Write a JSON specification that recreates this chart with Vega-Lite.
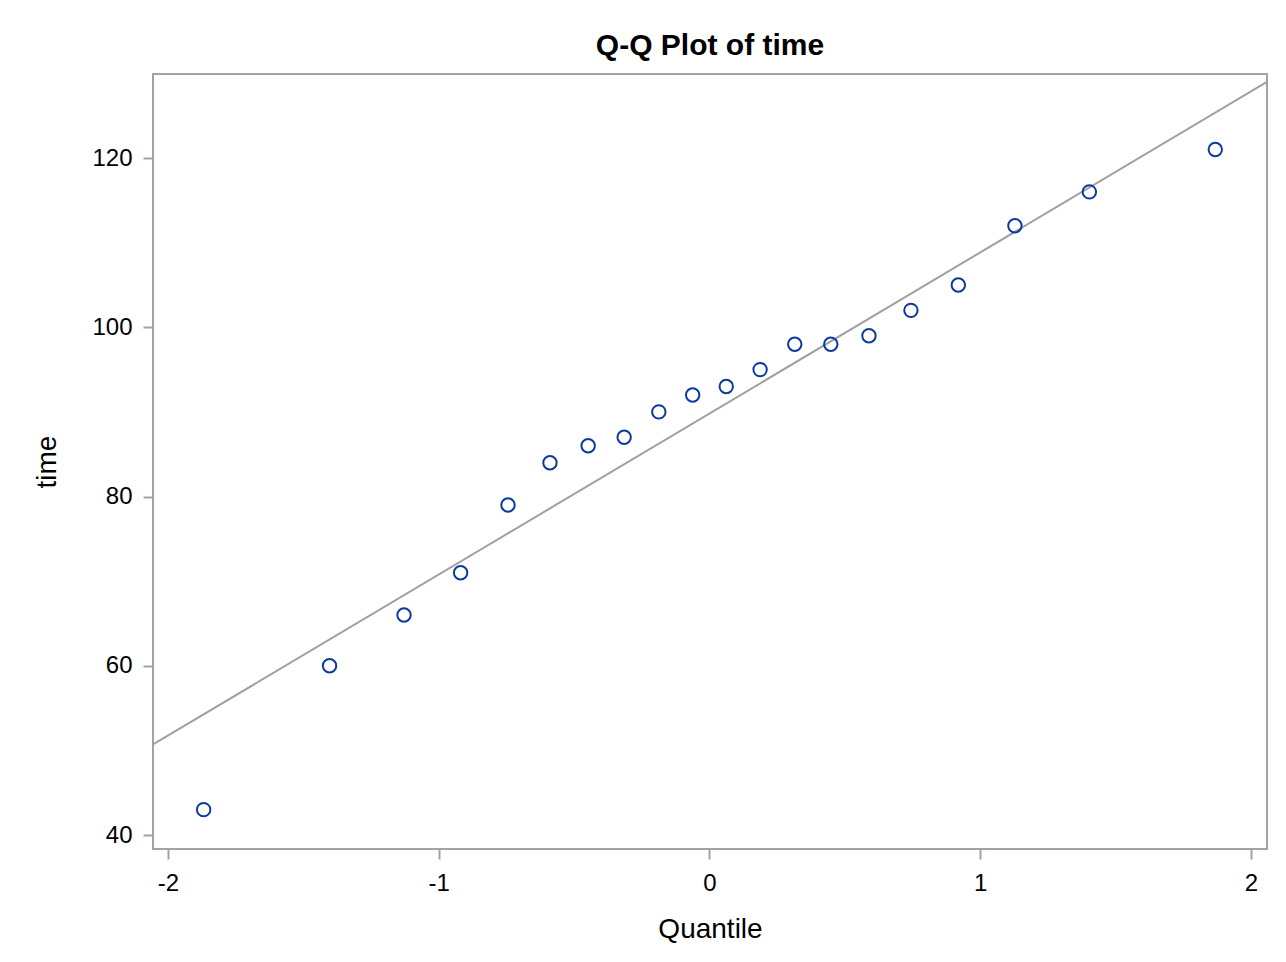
{
  "$schema": "https://vega.github.io/schema/vega-lite/v6.json",
  "width": 1114,
  "height": 775,
  "autosize": {"type": "none"},
  "padding": {"left": 153, "top": 74, "right": 19, "bottom": 113},
  "background": "white",
  "title": {
    "text": "Q-Q Plot of time",
    "font": "Liberation Sans",
    "fontSize": 30,
    "fontWeight": "bold",
    "color": "#000000",
    "anchor": "middle",
    "offset": 13
  },
  "config": {
    "view": {"stroke": "#a0a4a8", "strokeWidth": 2},
    "axis": {
      "domain": false,
      "grid": false,
      "ticks": true,
      "tickColor": "#a0a4a8",
      "tickWidth": 2,
      "tickSize": 10,
      "labelFont": "Liberation Sans",
      "labelFontSize": 24,
      "labelColor": "#000000",
      "labelExpr": "'' + datum.value",
      "titleFont": "Liberation Sans",
      "titleFontSize": 28,
      "titleFontWeight": "normal",
      "titleColor": "#000000"
    }
  },
  "datasets": {
    "points": [
      {"q": -1.868, "time": 43},
      {"q": -1.403, "time": 60},
      {"q": -1.128, "time": 66},
      {"q": -0.919, "time": 71},
      {"q": -0.744, "time": 79},
      {"q": -0.589, "time": 84},
      {"q": -0.448, "time": 86},
      {"q": -0.315, "time": 87},
      {"q": -0.187, "time": 90},
      {"q": -0.062, "time": 92},
      {"q": 0.062, "time": 93},
      {"q": 0.187, "time": 95},
      {"q": 0.315, "time": 98},
      {"q": 0.448, "time": 98},
      {"q": 0.589, "time": 99},
      {"q": 0.744, "time": 102},
      {"q": 0.919, "time": 105},
      {"q": 1.128, "time": 112},
      {"q": 1.403, "time": 116},
      {"q": 1.868, "time": 121}
    ],
    "refline": [
      {"q": -2.055, "time": 50.7},
      {"q": 2.059, "time": 129.0}
    ]
  },
  "layer": [
    {
      "data": {"name": "refline"},
      "mark": {"type": "line", "color": "#a0a0a0", "strokeWidth": 2, "clip": true},
      "encoding": {
        "x": {"field": "q", "type": "quantitative"},
        "y": {"field": "time", "type": "quantitative"}
      }
    },
    {
      "data": {"name": "points"},
      "mark": {"type": "point", "shape": "circle", "filled": false, "color": "#0b3a9e", "opacity": 1, "size": 180, "strokeWidth": 2, "clip": true},
      "encoding": {
        "x": {
          "field": "q",
          "type": "quantitative",
          "scale": {"domain": [-2.055, 2.059], "nice": false, "zero": false},
          "axis": {"title": "Quantile", "values": [-2, -1, 0, 1, 2], "labelPadding": 12, "titlePadding": 20},
          "title": "Quantile"
        },
        "y": {
          "field": "time",
          "type": "quantitative",
          "scale": {"domain": [38.35, 129.93], "nice": false, "zero": false},
          "axis": {"title": "time", "values": [40, 60, 80, 100, 120], "labelPadding": 11, "titlePadding": 30},
          "title": "time"
        }
      }
    }
  ]
}
